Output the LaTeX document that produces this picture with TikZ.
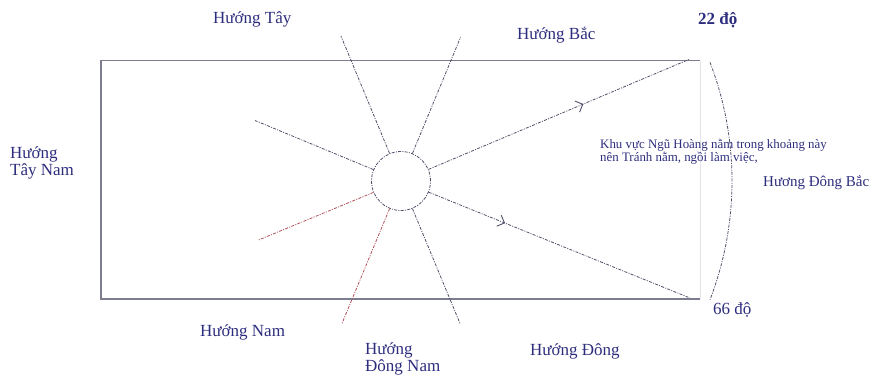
\documentclass[tikz,border=0pt]{standalone}
\usepackage{fontspec}
\setmainfont{Liberation Serif}
\usetikzlibrary{calc,decorations.markings}
\definecolor{ink}{RGB}{45,45,125}
\definecolor{linec}{RGB}{80,80,105}
\definecolor{redl}{RGB}{175,80,90}
\definecolor{framec}{RGB}{125,125,145}
\definecolor{faintc}{RGB}{228,228,232}
\tikzset{
  lbl/.style={text=ink, font=\fontsize{17}{16.5}\selectfont, inner sep=0pt, anchor=west, align=left},
  note/.style={text=ink, font=\fontsize{12.9}{12.8}\selectfont, inner sep=0pt, anchor=west, align=left},
  spoke/.style={draw=linec, line width=0.8pt, dash pattern=on 3pt off 1.3pt on 1pt off 1.3pt},
  redspoke/.style={spoke, draw=redl},
  frameline/.style={draw=framec, line width=1.2pt},
  faintline/.style={draw=faintc, line width=1pt},
  hubc/.style={circle, spoke, minimum size=59pt, inner sep=0pt},
  midarrow/.style={postaction={decorate}, decoration={markings, mark=at position #1 with {\draw[solid, draw=linec, line width=0.9pt] (-6pt,6pt) -- (0,0) -- (-6pt,-6pt);}}}
}
\begin{document}
\begin{tikzpicture}[x=1pt,y=1pt]
\useasboundingbox (0,0) rectangle (888,-378);
% frame
\coordinate (tl) at (101,-60.5);
\coordinate (tr) at (700,-60.5);
\coordinate (bl) at (101,-299);
\coordinate (br) at (700,-299);
\draw[faintline] (tr) -- (br);
\draw[frameline] (tr) -- (tl) -- (bl) -- (br);
% hub
\coordinate (c) at (401,-181);
\node[hubc] (hub) at (c) {};
% spokes
\coordinate (nnw) at ($(c)+(112.5:157pt)$);
\coordinate (nne) at ($(c)+(67.5:156pt)$);
\coordinate (wnw) at ($(c)+(157.5:158pt)$);
\coordinate (wsw) at ($(c)+(202.5:155pt)$);
\coordinate (ssw) at ($(c)+(247.5:154pt)$);
\coordinate (sse) at ($(c)+(292.5:154pt)$);
\draw[spoke] (hub) -- (nnw);
\draw[spoke] (hub) -- (nne);
\draw[spoke] (hub) -- (wnw);
\draw[redspoke] (hub) -- (wsw);
\draw[redspoke] (hub) -- (ssw);
\draw[spoke] (hub) -- (sse);
% arrows to corners
\coordinate (ne) at (690,-59);
\coordinate (se) at (690,-298);
\draw[spoke, midarrow=0.59] (hub) -- (ne);
\draw[spoke, midarrow=0.29] (hub) -- (se);
% arc
\coordinate (arcs) at ($(c)+(21:331pt)$);
\draw[spoke] (arcs) arc[start angle=21, end angle=-21, radius=331pt];
% labels
\node[lbl] (tay) at (213,-19) {Hướng Tây};
\node[lbl] (bac) at (517,-35) {Hướng Bắc};
\node[lbl, font=\fontsize{17}{16}\selectfont\bfseries] (d22) at (698,-20) {22 độ};
\node[lbl] (taynam) at (10,-163) {Hướng\\Tây Nam};
\node[note] (khu) at (600,-152) {Khu vực Ngũ Hoàng nằm trong khoảng này\\nên Tránh nằm, ngồi làm việc,};
\node[lbl, font=\fontsize{15}{15}\selectfont] (dongbac) at (763,-183) {Hương Đông Bắc};
\node[lbl] (nam) at (200,-332) {Hướng Nam};
\node[lbl] (dongnam) at (365,-359) {Hướng\\Đông Nam};
\node[lbl] (dong) at (530,-351) {Hướng Đông};
\node[lbl] (d66) at (713,-310) {66 độ};
\end{tikzpicture}
\end{document}
